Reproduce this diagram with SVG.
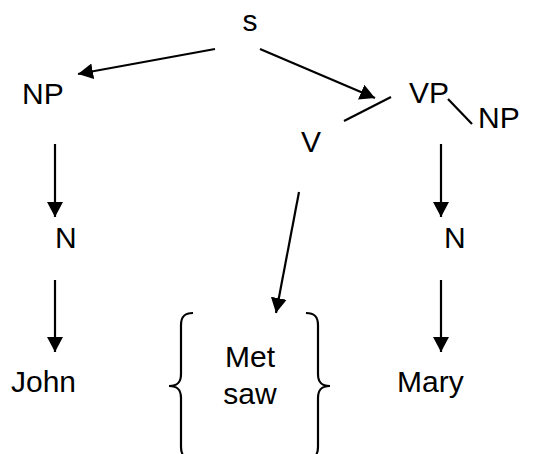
<svg xmlns="http://www.w3.org/2000/svg" width="549" height="454" viewBox="0 0 549 454">
  <style>
    .lbl { font-family: "Liberation Sans", Arial, sans-serif; font-size: 30px; fill: #000; }
    .edge { stroke: #000; stroke-width: 2.2; fill: none; }
    .arrow { marker-end: url(#head); }
  </style>
  <defs>
    <marker id="head" markerUnits="userSpaceOnUse" markerWidth="17" markerHeight="17" refX="15" refY="8" orient="auto">
      <path d="M0,0 L15,8 L0,16 Z" fill="#000"/>
    </marker>
  </defs>
  <rect width="549" height="454" fill="#fff"/>

  <g id="connectors">
    <line class="edge arrow" x1="215" y1="49" x2="78" y2="74"/>
    <line class="edge arrow" x1="260" y1="49" x2="375" y2="98"/>
    <line class="edge arrow" x1="55" y1="144" x2="55" y2="217"/>
    <line class="edge arrow" x1="441" y1="144" x2="441" y2="217"/>
    <line class="edge arrow" x1="299" y1="192" x2="276" y2="313"/>
    <line class="edge arrow" x1="55" y1="280" x2="55" y2="352"/>
    <line class="edge arrow" x1="441" y1="280" x2="441" y2="352"/>
    <line class="edge" x1="344" y1="121" x2="391" y2="97"/>
    <line class="edge" x1="448" y1="99" x2="472" y2="124"/>
  </g>

  <g id="s"><text class="lbl" x="250" y="31" text-anchor="middle">s</text></g>
  <g id="np-left"><text class="lbl" x="22" y="104">NP</text></g>
  <g id="vp"><text class="lbl" x="409" y="103">VP</text></g>
  <g id="np-right"><text class="lbl" x="478" y="128">NP</text></g>
  <g id="v"><text class="lbl" x="301" y="152">V</text></g>
  <g id="n-left"><text class="lbl" x="55" y="248">N</text></g>
  <g id="n-right"><text class="lbl" x="444" y="248">N</text></g>
  <g id="john"><text class="lbl" x="11" y="392">John</text></g>
  <g id="verbs">
    <path class="edge" d="M193,313 C184,313 181,317 181,325 L181,374 C181,382 178,386 169,386 C178,386 181,390 181,398 L181,447 C181,455 184,459 193,459"/>
    <path class="edge" d="M306,313 C315,313 318,317 318,325 L318,374 C318,382 321,386 330,386 C321,386 318,390 318,398 L318,447 C318,455 315,459 306,459"/>
    <text class="lbl" x="250" y="367" text-anchor="middle">Met</text>
    <text class="lbl" x="250" y="404" text-anchor="middle">saw</text>
  </g>
  <g id="mary"><text class="lbl" x="397" y="392">Mary</text></g>
</svg>
